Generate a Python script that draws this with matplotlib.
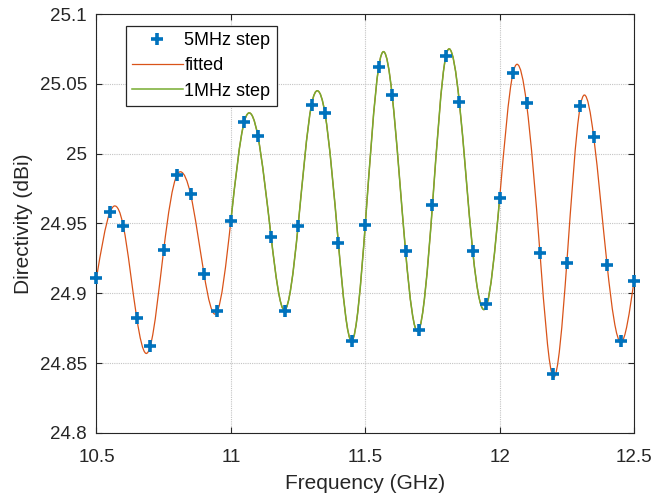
import numpy as np
import matplotlib
matplotlib.use("Agg")
import matplotlib.pyplot as plt
from matplotlib.path import Path
from matplotlib.patches import PathPatch
from matplotlib.lines import Line2D

plt.rcParams['font.family'] = ['Liberation Sans', 'DejaVu Sans']

# 5 MHz step samples (GHz, dBi)
freq_5mhz = [10.50, 10.55, 10.60, 10.65, 10.70, 10.75, 10.80, 10.85, 10.90, 10.95,
             11.00, 11.05, 11.10, 11.15, 11.20, 11.25, 11.30, 11.35, 11.40, 11.45,
             11.50, 11.55, 11.60, 11.65, 11.70, 11.75, 11.80, 11.85, 11.90, 11.95,
             12.00, 12.05, 12.10, 12.15, 12.20, 12.25, 12.30, 12.35, 12.40, 12.45, 12.50]
dir_5mhz = [24.911, 24.958, 24.948, 24.882, 24.862, 24.931, 24.985, 24.971, 24.914, 24.887,
            24.952, 25.023, 25.013, 24.940, 24.887, 24.948, 25.035, 25.029, 24.936, 24.866,
            24.949, 25.062, 25.042, 24.930, 24.874, 24.963, 25.070, 25.037, 24.930, 24.892,
            24.968, 25.058, 25.036, 24.929, 24.842, 24.922, 25.034, 25.012, 24.920, 24.866, 24.909]

# fitted curve: points (samples plus its peaks / troughs)
fit_freq = [10.500, 10.550, 10.566, 10.600, 10.650, 10.684, 10.700, 10.750, 10.800, 10.814,
            10.850, 10.900, 10.947, 11.000, 11.050, 11.065, 11.100, 11.150, 11.199, 11.250,
            11.300, 11.323, 11.350, 11.400, 11.450, 11.500, 11.550, 11.569, 11.600, 11.650,
            11.697, 11.750, 11.800, 11.813, 11.850, 11.900, 11.949, 12.000, 12.050, 12.065,
            12.100, 12.150, 12.200, 12.250, 12.300, 12.315, 12.350, 12.400, 12.451, 12.500]
fit_dir = [24.911, 24.958, 24.9625, 24.948, 24.882, 24.857, 24.862, 24.931, 24.985, 24.987,
           24.971, 24.914, 24.886, 24.952, 25.023, 25.029, 25.013, 24.940, 24.888, 24.948,
           25.035, 25.045, 25.029, 24.936, 24.866, 24.949, 25.062, 25.073, 25.042, 24.930,
           24.873, 24.963, 25.070, 25.075, 25.037, 24.930, 24.890, 24.968, 25.058, 25.064,
           25.036, 24.929, 24.840, 24.922, 25.034, 25.042, 25.012, 24.920, 24.865, 24.909]

# 1 MHz step sweep covers this band and lies on the fitted curve
band_1mhz = (11.0, 12.0)

x_ticks = [10.5, 11, 11.5, 12, 12.5]
y_ticks = [24.8, 24.85, 24.9, 24.95, 25, 25.05, 25.1]

TXT = '#262626'


def spline_slopes(x, y):
    # natural cubic spline derivatives at the knots
    x = np.asarray(x, float); y = np.asarray(y, float)
    n = len(x); h = np.diff(x)
    A = np.zeros((n, n)); r = np.zeros(n)
    A[0, 0] = A[-1, -1] = 1.0
    for i in range(1, n - 1):
        A[i, i - 1] = h[i - 1]; A[i, i] = 2 * (h[i - 1] + h[i]); A[i, i + 1] = h[i]
        r[i] = 6 * ((y[i + 1] - y[i]) / h[i] - (y[i] - y[i - 1]) / h[i - 1])
    M = np.linalg.solve(A, r)
    m = np.empty(n)
    m[:-1] = (y[1:] - y[:-1]) / h - h * (2 * M[:-1] + M[1:]) / 6
    m[-1] = (y[-1] - y[-2]) / h[-1] + h[-1] * (M[-2] + 2 * M[-1]) / 6
    return m


def curve_path(x, y, lo, hi):
    x = np.asarray(x, float); y = np.asarray(y, float)
    m = spline_slopes(x, y)
    verts, codes = [], []
    for i in range(len(x) - 1):
        if x[i] < lo - 1e-9 or x[i + 1] > hi + 1e-9:
            continue
        h = x[i + 1] - x[i]
        if not verts:
            verts.append((x[i], y[i])); codes.append(Path.MOVETO)
        verts += [(x[i] + h / 3, y[i] + m[i] * h / 3),
                  (x[i + 1] - h / 3, y[i + 1] - m[i + 1] * h / 3),
                  (x[i + 1], y[i + 1])]
        codes += [Path.CURVE4] * 3
    return Path(verts, codes)


fig = plt.figure(figsize=(6.71, 4.95), dpi=100)
ax = fig.add_axes([0.1438, 0.1253, 0.8011, 0.8464])

ax.plot(freq_5mhz, dir_5mhz, linestyle='none', marker='+', color='#0072BD',
        markersize=8.5, markeredgewidth=2.6, clip_on=False, zorder=5)
ax.add_patch(PathPatch(curve_path(fit_freq, fit_dir, 10.5, 12.5), fill=False,
                       edgecolor='#D95319', lw=0.9, zorder=3))
ax.add_patch(PathPatch(curve_path(fit_freq, fit_dir, *band_1mhz), fill=False,
                       edgecolor='#77AC30', lw=1.1, zorder=4))

ax.set_xlim(10.5, 12.5)
ax.set_ylim(24.8, 25.1)
ax.set_xticks(x_ticks)
ax.set_xticklabels(['10.5', '11', '11.5', '12', '12.5'])
ax.set_yticks(y_ticks)
ax.set_yticklabels(['24.8', '24.85', '24.9', '24.95', '25', '25.05', '25.1'])
ax.tick_params(direction='in', length=4, width=0.8, colors=TXT, labelsize=13.5,
               top=True, right=True)
ax.tick_params(axis='y', pad=7)
ax.tick_params(axis='x', pad=11.5)
ax.grid(True, color='#c4c4c4', linestyle=(0, (1, 1)), linewidth=0.8)
for s in ax.spines.values():
    s.set_color(TXT)
    s.set_linewidth(0.8)

ax.set_xlabel('Frequency (GHz)', fontsize=15, color=TXT, labelpad=5.5)
ax.set_ylabel('Directivity (dBi)', fontsize=15, color=TXT, labelpad=5)

handles = [Line2D([], [], linestyle='none', marker='+', color='#0072BD',
                  markersize=8.5, markeredgewidth=2.6),
           Line2D([], [], color='#D95319', lw=0.9),
           Line2D([], [], color='#77AC30', lw=1.1)]
leg = ax.legend(handles, ['5MHz step', 'fitted', '1MHz step'], loc='upper left',
                bbox_to_anchor=(0.0543, 0.9714), fontsize=13, frameon=True,
                fancybox=False, edgecolor=TXT, framealpha=1, borderpad=0.35,
                labelspacing=0.45, handlelength=2.8, handletextpad=0.1,
                borderaxespad=0)
leg.get_frame().set_linewidth(0.9)
for t in leg.get_texts():
    t.set_color('black')

fig.savefig('out.png', dpi=100)
